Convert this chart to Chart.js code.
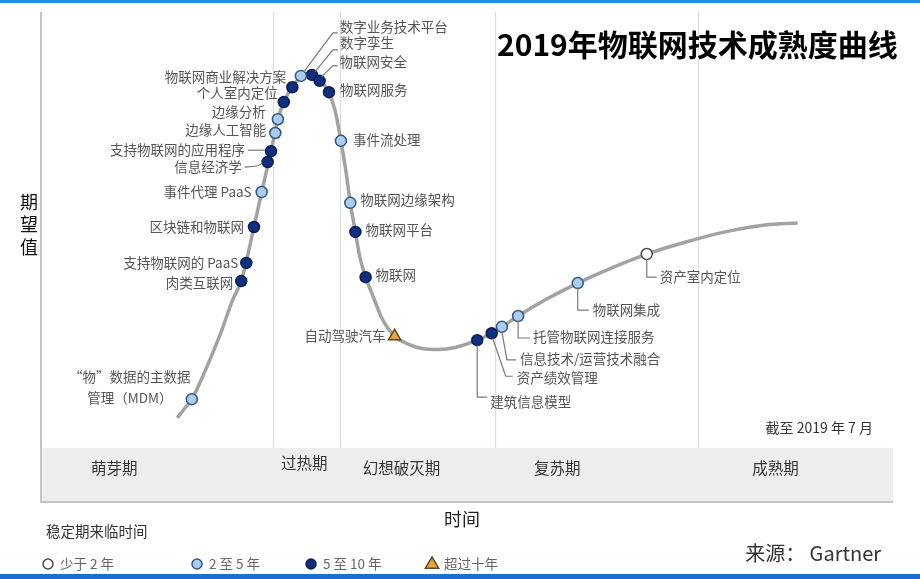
<!DOCTYPE html>
<html lang="zh-CN">
<head>
    <meta charset="UTF-8">
    <title>2019年物联网技术成熟度曲线</title>
    <script src="https://cdn.jsdelivr.net/npm/chart.js@4.4.1/dist/chart.umd.min.js"></script>
    <style>
        html, body {margin: 0; padding: 0; background: #fff; overflow: hidden;}
        #wrap {position: relative; width: 920px; height: 579px;}
    </style>
</head>
<body>
<div id="wrap"><canvas id="hype" width="920" height="579"></canvas></div>
<script>
    // 曲线（时间 / 期望值，0-100）
    const curveX = [16.0, 16.9, 17.7, 19.2, 21.0, 22.5, 23.5, 25.0, 25.9, 27.0, 27.8, 28.6, 29.5, 30.5, 31.2, 32.0, 32.7, 33.7,
        34.5, 35.2, 35.8, 36.3, 36.9, 37.4, 38.1, 39.0, 40.0, 41.5, 43.1, 44.7, 46.6, 48.6, 51.2, 52.9, 54.1, 56.0,
        59.2, 63.0, 67.0, 71.1, 75.6, 80.3, 85.0, 88.8];
    const curveY = [17.1, 19.1, 20.9, 26.4, 33.9, 41.1, 44.9, 55.9, 63.0, 71.3, 77.8, 81.7, 84.3, 86.4, 87.0, 86.8, 85.8, 83.5,
        79.7, 73.4, 67.1, 60.8, 54.9, 50.0, 45.7, 41.7, 37.4, 33.7, 32.1, 31.2, 31.0, 31.4, 32.9, 34.3, 35.6, 37.8,
        41.1, 44.5, 47.6, 50.4, 52.8, 54.9, 56.3, 56.7];

    // 技术点
    const techNames = ['“物”数据的主数据\n管理（MDM）', '肉类互联网', '支持物联网的 PaaS', '区块链和物联网', '事件代理 PaaS',
        '信息经济学', '支持物联网的应用程序', '边缘人工智能', '边缘分析', '个人室内定位', '物联网商业解决方案',
        '数字业务技术平台', '数字孪生', '物联网安全', '物联网服务', '事件流处理', '物联网边缘架构', '物联网平台', '物联网',
        '自动驾驶汽车', '建筑信息模型', '资产绩效管理', '信息技术/运营技术融合', '托管物联网连接服务', '物联网集成', '资产室内定位'];
    const techX = [17.7, 23.5, 24.1, 25.0, 25.9, 26.6, 27.0, 27.5, 27.8, 28.5, 29.5, 30.5, 31.8, 32.7, 33.8, 35.2, 36.3, 36.9, 38.1,
        41.5, 51.2, 52.9, 54.1, 56.0, 63.0, 71.1];
    const techY = [20.9, 44.9, 48.6, 55.9, 63.0, 69.1, 71.3, 75.0, 77.8, 81.3, 84.3, 86.6, 86.8, 85.6, 83.3, 73.4, 60.8, 54.9, 45.7,
        33.7, 32.9, 34.3, 35.6, 37.8, 44.5, 50.4];
    // 0 少于2年, 1 2至5年, 2 5至10年, 3 超过十年
    const techCat = [1, 2, 2, 2, 1, 2, 2, 1, 1, 2, 2, 1, 2, 2, 2, 1, 1, 2, 2, 3, 2, 2, 1, 1, 1, 0];

    const catNames = ['少于 2 年', '2 至 5 年', '5 至 10 年', '超过十年'];
    const phaseNames = ['萌芽期', '过热期', '幻想破灭期', '复苏期', '成熟期'];
    const phaseEdges = [27.2, 35.1, 53.3, 77.1];

    // 样式与位置
    const catStyle = [
        {fill: '#ffffff', stroke: '#4a4a4a', shape: 'circle', r: 5.5},
        {fill: '#a9cdef', stroke: '#35557f', shape: 'circle', r: 5.5},
        {fill: '#102f7e', stroke: '#0a1f55', shape: 'circle', r: 5.5},
        {fill: '#e9a53c', stroke: '#5b4a22', shape: 'triangle', r: 7}
    ];
    const phaseLabelX = [8.6, 30.9, 42.3, 60.6, 86.2];
    const labelPos = [
        {dx: -62, dy: -12, align: 'center'},
        {dx: -8, dy: 2, align: 'right'},
        {dx: -8, dy: 0, align: 'right'},
        {dx: -10, dy: 0, align: 'right'},
        {dx: -10, dy: 0, align: 'right'},
        {dx: -26, dy: 5, align: 'right', lead: [[-23, 5], [-10, 4], [-5, 1]]},
        {dx: -26, dy: -1, align: 'right', lead: [[-23, -1], [-6, -1]]},
        {dx: -9, dy: -3, align: 'right'},
        {dx: -12, dy: -7, align: 'right'},
        {dx: -6, dy: -9, align: 'right'},
        {dx: -6, dy: -10, align: 'right'},
        {dx: 39, dy: -49, align: 'left', lead: [[3, -4], [32, -43], [37, -43]]},
        {dx: 28, dy: -32, align: 'left', lead: [[3, -3], [21, -25], [26, -25]]},
        {dx: 20, dy: -19, align: 'left', lead: [[2, -4], [13, -15], [18, -15]]},
        {dx: 11, dy: -2, align: 'left'},
        {dx: 12, dy: -1, align: 'left'},
        {dx: 10, dy: -3, align: 'left'},
        {dx: 10, dy: -2, align: 'left'},
        {dx: 10, dy: -2, align: 'left'},
        {dx: -9, dy: 0, align: 'right'},
        {dx: 13, dy: 62, align: 'left', lead: [[0, 5], [0, 57], [10, 57]]},
        {dx: 25, dy: 45, align: 'left', lead: [[1, 5], [14, 43], [21, 43]]},
        {dx: 18, dy: 32, align: 'left', lead: [[0, 5], [5, 33], [14, 33]]},
        {dx: 15, dy: 21, align: 'left', lead: [[0, 5], [0, 22], [12, 22]]},
        {dx: 15, dy: 27, align: 'left', lead: [[0, 5], [0, 27], [11, 27]]},
        {dx: 13, dy: 23, align: 'left', lead: [[0, 5], [0, 23], [10, 23]]}
    ];

    const FONT = '"Noto Sans CJK SC", "Noto Sans", sans-serif';

    function drawMark(ctx, st, x, y) {
        ctx.save();
        ctx.fillStyle = st.fill;
        ctx.strokeStyle = st.stroke;
        ctx.lineWidth = 1.5;
        ctx.beginPath();
        if (st.shape === 'triangle') {
            ctx.moveTo(x, y - st.r);
            ctx.lineTo(x + st.r * 0.95, y + st.r * 0.6);
            ctx.lineTo(x - st.r * 0.95, y + st.r * 0.6);
            ctx.closePath();
        } else {
            ctx.arc(x, y, st.r, 0, Math.PI * 2);
        }
        ctx.fill();
        ctx.stroke();
        ctx.restore();
    }

    const backdrop = {
        id: 'backdrop',
        beforeDatasetsDraw(chart) {
            const {ctx, chartArea: a, scales: {x, y}} = chart;
            ctx.save();
            ctx.fillStyle = '#1b8de4';
            ctx.fillRect(0, 0, chart.width, 3);
            ctx.fillStyle = '#1a6fd0';
            ctx.fillRect(0, 574, chart.width, 5);

            // 阶段底带
            const bandTop = y.getPixelForValue(11);
            ctx.fillStyle = '#ededed';
            ctx.fillRect(a.left, bandTop, a.right - a.left, a.bottom - bandTop);

            // 阶段分隔线
            ctx.strokeStyle = '#dcdcdc';
            ctx.lineWidth = 1.2;
            phaseEdges.forEach(v => {
                const px = Math.round(x.getPixelForValue(v)) + 0.5;
                ctx.beginPath();
                ctx.moveTo(px, a.top + 2);
                ctx.lineTo(px, bandTop);
                ctx.stroke();
            });

            // 坐标轴
            ctx.strokeStyle = '#c4c4c4';
            ctx.lineWidth = 2;
            ctx.beginPath();
            ctx.moveTo(a.left, a.top + 2);
            ctx.lineTo(a.left, a.bottom);
            ctx.lineTo(a.right, a.bottom);
            ctx.stroke();

            // 阶段名
            ctx.fillStyle = '#333';
            ctx.font = '15.5px ' + FONT;
            ctx.textAlign = 'center';
            ctx.textBaseline = 'middle';
            phaseNames.forEach((n, i) => {
                ctx.fillText(n, x.getPixelForValue(phaseLabelX[i]), i === 1 ? 463 : 468);
            });

            // 标题
            ctx.fillStyle = '#000';
            ctx.font = 'bold 30px ' + FONT;
            ctx.textAlign = 'left';
            ctx.fillText('2019年物联网技术成熟度曲线', 497, 45);

            // 轴标题
            ctx.font = '18px ' + FONT;
            ctx.fillStyle = '#111';
            ctx.textAlign = 'center';
            ['期', '望', '值'].forEach((c, i) => ctx.fillText(c, 29, 202 + i * 22.5));
            ctx.font = '18px ' + FONT;
            ctx.fillStyle = '#222';
            ctx.fillText('时间', 462, 519);

            ctx.font = '14px ' + FONT;
            ctx.fillStyle = '#333';
            ctx.textAlign = 'right';
            ctx.fillText('截至 2019 年 7 月', 873, 428);

            ctx.font = '20px ' + FONT;
            ctx.fillStyle = '#333';
            ctx.fillText('来源： Gartner', 881, 553);

            // 图例
            ctx.textAlign = 'left';
            ctx.font = '14.5px ' + FONT;
            ctx.fillStyle = '#333';
            ctx.fillText('稳定期来临时间', 46, 531);
            const legX = [48, 197, 311, 432];
            ctx.font = '13.5px ' + FONT;
            catNames.forEach((n, i) => {
                drawMark(ctx, Object.assign({}, catStyle[i], {r: i === 3 ? 7 : 5}), legX[i], 564);
                ctx.fillStyle = '#666';
                ctx.fillText(n, legX[i] + 12, 564);
            });
            ctx.restore();
        },
        afterDatasetsDraw(chart) {
            const {ctx, scales: {x, y}} = chart;
            ctx.save();
            ctx.font = '13.5px ' + FONT;
            ctx.textBaseline = 'middle';
            techNames.forEach((name, i) => {
                const px = x.getPixelForValue(techX[i]);
                const py = y.getPixelForValue(techY[i]);
                const L = labelPos[i];
                if (L.lead) {
                    ctx.strokeStyle = '#7a7a7a';
                    ctx.lineWidth = 1.2;
                    ctx.beginPath();
                    L.lead.forEach((p, k) => k ? ctx.lineTo(px + p[0], py + p[1]) : ctx.moveTo(px + p[0], py + p[1]));
                    ctx.stroke();
                }
                ctx.fillStyle = '#555';
                ctx.textAlign = L.align;
                const lines = name.split('\n');
                lines.forEach((t, k) => {
                    ctx.fillText(t, px + L.dx, py + L.dy + (k - (lines.length - 1) / 2) * 21);
                });
            });
            ctx.restore();
        }
    };

    const markSets = catStyle.map((st, c) => ({
        label: catNames[c],
        data: techX.map((v, i) => ({x: v, y: techY[i], c: techCat[i]})).filter(p => p.c === c),
        pointStyle: st.shape,
        pointRadius: st.r,
        pointBackgroundColor: st.fill,
        pointBorderColor: st.stroke,
        pointBorderWidth: 1.5,
        pointHoverRadius: st.r,
        order: 1
    }));

    new Chart(document.getElementById('hype'), {
        type: 'scatter',
        data: {
            datasets: [{
                label: 'curve',
                data: curveX.map((v, i) => ({x: v, y: curveY[i]})),
                showLine: true,
                borderColor: '#a2a2a2',
                borderWidth: 3.5,
                pointRadius: 0,
                cubicInterpolationMode: 'monotone',
                order: 5
            }].concat(markSets)
        },
        options: {
            responsive: false,
            animation: false,
            devicePixelRatio: 1,
            layout: {padding: {left: 41, right: 27, top: 10, bottom: 77}},
            scales: {
                x: {type: 'linear', min: 0, max: 100, display: false},
                y: {type: 'linear', min: 0, max: 100, display: false}
            },
            plugins: {legend: {display: false}, tooltip: {enabled: false}}
        },
        plugins: [backdrop]
    });
</script>
</body>
</html>
